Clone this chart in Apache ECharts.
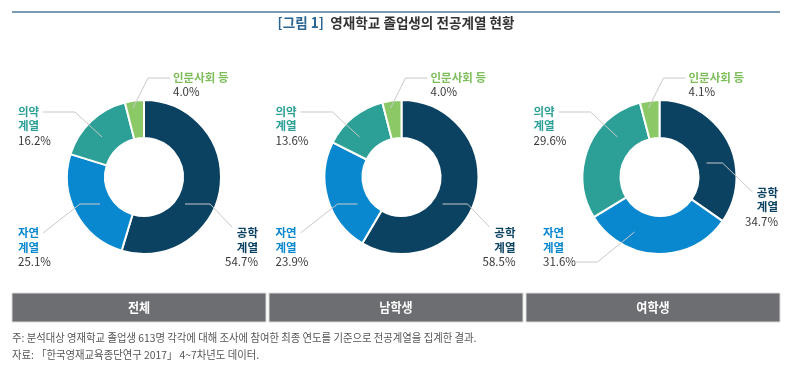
<!DOCTYPE html>
<html>
<head>
<meta charset="utf-8">
<script src="https://cdn.jsdelivr.net/npm/echarts@6/dist/echarts.min.js"></script>
<style>
  html, body { margin: 0; padding: 0; background: #fff; }
  #chart { width: 792px; height: 370px; }
</style>
</head>
<body>
<div id="chart"></div>
<script>
// ---------- data ----------
const CATEGORIES = ['공학 계열', '자연 계열', '의약 계열', '인문사회 등'];
const LABEL_NAMES = ['공학\n계열', '자연\n계열', '의약\n계열', '인문사회 등'];
const GROUPS = ['전체', '남학생', '여학생'];
const TOTAL = [54.7, 25.1, 16.2, 4.0];
const MALE = [58.5, 23.9, 13.6, 4.0];
const FEMALE = [34.7, 31.6, 29.6, 4.1];
const TITLE_TAG = '[그림 1]';
const TITLE_TEXT = '영재학교 졸업생의 전공계열 현황';
const NOTE_1 = '주: 분석대상 영재학교 졸업생 613명 각각에 대해 조사에 참여한 최종 연도를 기준으로 전공계열을 집계한 결과.';
const NOTE_2 = '자료: 「한국영재교육종단연구 2017」 4~7차년도 데이터.';

// ---------- styling / layout ----------
const FONT = 'Noto Sans CJK KR';
const COLORS = ['#0B4161', '#0A88CF', '#2CA096', '#8BC866'];
const TEXT_COLORS = ['#0B4161', '#0A88CF', '#2CA096', '#7DBE5B'];
const CENTERS_X = [144, 401.5, 659.5];
const CENTER_Y = 177;
const RADII = [39, 77];

const STD_LAYOUT = [
  { x: 114, y: 70.5, align: 'right', line: [[41, 27], [66, 27], [88, 50]] },
  { x: -126, y: 70.5, align: 'left', line: [[-44, 27], [-64, 27], [-101, 56]] },
  { x: -126, y: -51, align: 'left', line: [[-42, -40], [-69, -65], [-101, -65]] },
  { x: 29, y: -92.5, align: 'left', line: [[-11, -69], [4, -99], [26, -99]] }
];
const FEMALE_LAYOUT = [
  { x: 118.5, y: 30, align: 'right', line: [[47, -14], [63, -14], [93, 15]] },
  { x: -116.5, y: 70.5, align: 'left', line: [[-25, 55], [-62, 85], [-85, 85]] },
  STD_LAYOUT[2],
  STD_LAYOUT[3]
];
const LAYOUTS = [STD_LAYOUT, STD_LAYOUT, FEMALE_LAYOUT];
const SERIES_VALUES = [TOTAL, MALE, FEMALE];

const rich = { p: { fontFamily: FONT, fontSize: 11.5, color: '#383838', lineHeight: 14.5 } };
TEXT_COLORS.forEach(function (c, i) {
  rich['n' + i] = { fontFamily: FONT, fontSize: 11.5, fontWeight: 'bold', color: c, lineHeight: 14.5 };
});

const series = GROUPS.map(function (g, si) {
  const cx = CENTERS_X[si];
  const lay = LAYOUTS[si];
  return {
    type: 'pie',
    name: g,
    center: [cx, CENTER_Y],
    radius: RADII,
    startAngle: 90,
    clockwise: true,
    avoidLabelOverlap: false,
    silent: true,
    animation: false,
    itemStyle: { borderColor: '#fff', borderWidth: 2 },
    label: {
      show: true,
      position: 'outside',
      fontFamily: FONT,
      formatter: function (p) {
        const nm = LABEL_NAMES[p.dataIndex].split('\n')
          .map(function (s) { return '{n' + p.dataIndex + '|' + s + '}'; }).join('\n');
        return nm + '\n{p|' + p.value.toFixed(1) + '%}';
      },
      rich: rich
    },
    labelLine: { show: false },
    labelLayout: function (p) {
      const L = lay[p.dataIndex];
      return {
        x: cx + L.x,
        y: CENTER_Y + L.y,
        align: L.align,
        verticalAlign: 'middle'
      };
    },
    data: CATEGORIES.map(function (c, i) {
      return {
        name: c,
        value: SERIES_VALUES[si][i],
        itemStyle: { color: COLORS[i] },
        label: { align: lay[i].align }
      };
    })
  };
});

// header / footer graphics
const BAR_X = [12, 269, 526];
const BAR_W = 254;
const graphic = [
  { type: 'line', shape: { x1: 12, y1: 12, x2: 780, y2: 12 }, style: { stroke: '#7E9BB4', lineWidth: 2 }, silent: true },
  {
    type: 'text', x: 396, y: 23, scaleX: 0.97, silent: true,
    style: {
      text: '{t|' + TITLE_TAG + '}  {m|' + TITLE_TEXT + '}',
      align: 'center', verticalAlign: 'middle',
      rich: {
        t: { fontFamily: FONT, fontSize: 14, fontWeight: 'bold', fill: '#2B6592' },
        m: { fontFamily: FONT, fontSize: 14, fontWeight: 'bold', fill: '#333333' }
      }
    }
  },
  {
    type: 'text', x: 12, y: 338, scaleX: 0.94, silent: true,
    style: { text: NOTE_1, fontFamily: FONT, fontSize: 11, fill: '#555555', align: 'left', verticalAlign: 'middle' }
  },
  {
    type: 'text', x: 12, y: 355, scaleX: 0.94, silent: true,
    style: { text: NOTE_2, fontFamily: FONT, fontSize: 11, fill: '#555555', align: 'left', verticalAlign: 'middle' }
  }
];
GROUPS.forEach(function (g, i) {
  graphic.push({
    type: 'rect', silent: true,
    shape: { x: BAR_X[i], y: 293, width: BAR_W, height: 29 },
    style: { fill: '#6D6E72', stroke: '#DADADA', lineWidth: 1 }
  });
  graphic.push({
    type: 'text', silent: true, x: BAR_X[i] + BAR_W / 2, y: 307.5, scaleX: 0.93,
    style: { text: g, fontFamily: FONT, fontSize: 13, fontWeight: 'bold', fill: '#ffffff', align: 'center', verticalAlign: 'middle' }
  });
  // label leader lines, drawn above the rings
  LAYOUTS[i].forEach(function (L) {
    graphic.push({
      type: 'polyline', silent: true, z: 10,
      shape: { points: L.line.map(function (pt) { return [CENTERS_X[i] + pt[0], CENTER_Y + pt[1]]; }) },
      style: { stroke: '#C9C9C9', lineWidth: 1, fill: null }
    });
  });
});

const chart = echarts.init(document.getElementById('chart'), null, { renderer: 'canvas' });
chart.setOption({
  backgroundColor: '#ffffff',
  animation: false,
  textStyle: { fontFamily: FONT },
  graphic: graphic,
  series: series
});
</script>
</body>
</html>
